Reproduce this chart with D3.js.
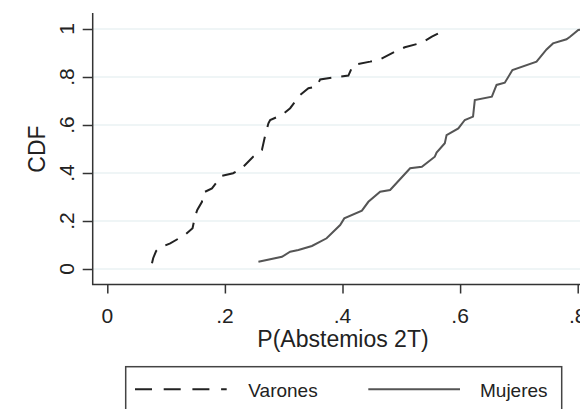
<!DOCTYPE html>
<html>
<head>
<meta charset="utf-8">
<script src="https://cdn.jsdelivr.net/npm/d3@7"></script>
<style>
  body { margin: 0; background: #fff; }
  svg { display: block; font-family: "Liberation Sans", Arial, sans-serif; }
</style>
</head>
<body>
<div id="chart"></div>
<script>
const varonesX = [0.076, 0.078, 0.083, 0.087, 0.107, 0.132, 0.145, 0.149, 0.153, 0.161, 0.163, 0.178, 0.189, 0.195, 0.214, 0.229, 0.248, 0.263, 0.268, 0.274, 0.277, 0.297, 0.311, 0.328, 0.342, 0.356, 0.362, 0.382, 0.410, 0.418, 0.447, 0.464, 0.489, 0.506, 0.535, 0.552, 0.577];
const varonesY = [0.024, 0.045, 0.075, 0.086, 0.107, 0.142, 0.170, 0.218, 0.246, 0.280, 0.318, 0.336, 0.371, 0.388, 0.399, 0.420, 0.468, 0.496, 0.551, 0.607, 0.621, 0.642, 0.670, 0.725, 0.753, 0.760, 0.790, 0.797, 0.806, 0.850, 0.864, 0.874, 0.905, 0.924, 0.943, 0.968, 1.000];

const mujeresX = [0.257, 0.297, 0.311, 0.325, 0.348, 0.373, 0.396, 0.403, 0.433, 0.444, 0.464, 0.481, 0.515, 0.535, 0.557, 0.560, 0.574, 0.577, 0.597, 0.608, 0.622, 0.625, 0.654, 0.662, 0.676, 0.689, 0.730, 0.747, 0.758, 0.781, 0.787, 0.801, 0.812];
const mujeresY = [0.030, 0.051, 0.072, 0.079, 0.096, 0.128, 0.183, 0.211, 0.243, 0.280, 0.322, 0.329, 0.420, 0.426, 0.468, 0.485, 0.524, 0.558, 0.586, 0.621, 0.635, 0.704, 0.718, 0.767, 0.776, 0.829, 0.864, 0.915, 0.940, 0.957, 0.968, 0.996, 1.000];

const xTicks = [0, 0.2, 0.4, 0.6, 0.8];
const yTicks = [0, 0.2, 0.4, 0.6, 0.8, 1];
const seriesNames = ['Varones', 'Mujeres'];

const width = 580, height = 409;

const svg = d3.select('#chart')
  .append('svg')
  .attr('width', width)
  .attr('height', height);

const x = d3.scaleLinear().domain([0, 0.8]).range([107.3, 577.7]);
const y = d3.scaleLinear().domain([0, 1]).range([269, 29]);

const fmt = d => d === 0 ? '0' : d === 1 ? '1' : d3.format('.1f')(d).replace(/^0/, '');

// gridlines
svg.append('g')
  .selectAll('line')
  .data(yTicks)
  .enter()
  .append('line')
  .attr('x1', 93).attr('x2', width)
  .attr('y1', d => y(d)).attr('y2', d => y(d))
  .attr('stroke', '#eaf2f3')
  .attr('stroke-width', 1.5);

// series
const line = d3.line().x(d => x(d[0])).y(d => y(d[1]));

svg.append('path')
  .datum(d3.zip(mujeresX, mujeresY))
  .attr('d', line)
  .attr('fill', 'none')
  .attr('stroke', '#555')
  .attr('stroke-width', 2);

svg.append('path')
  .datum(d3.zip(varonesX, varonesY))
  .attr('d', line)
  .attr('fill', 'none')
  .attr('stroke', '#222')
  .attr('stroke-width', 2)
  .attr('stroke-dasharray', '14,10');

// axes
const yAxis = svg.append('g').attr('transform', 'translate(92.7,0)')
  .call(d3.axisLeft(y).tickValues(yTicks).tickSize(10).tickFormat(''));
const xAxis = svg.append('g').attr('transform', 'translate(0,284.5)')
  .call(d3.axisBottom(x).tickValues(xTicks).tickSize(9).tickFormat(''));

yAxis.select('.domain').remove();
xAxis.select('.domain').remove();
svg.selectAll('.tick line').attr('stroke', '#333').attr('stroke-width', 1.5);

svg.append('line')
  .attr('x1', 92.7).attr('x2', 92.7).attr('y1', 13).attr('y2', 285)
  .attr('stroke', '#333').attr('stroke-width', 1.5);
svg.append('line')
  .attr('x1', 92).attr('x2', width).attr('y1', 284.5).attr('y2', 284.5)
  .attr('stroke', '#333').attr('stroke-width', 1.5);

// tick labels
svg.append('g')
  .selectAll('text')
  .data(yTicks)
  .enter()
  .append('text')
  .attr('transform', d => `translate(73.5,${y(d)}) rotate(-90)`)
  .attr('text-anchor', 'middle')
  .attr('font-size', 21)
  .attr('fill', '#222')
  .text(fmt);

svg.append('g')
  .selectAll('text')
  .data(xTicks)
  .enter()
  .append('text')
  .attr('x', d => x(d))
  .attr('y', 323.3)
  .attr('text-anchor', 'middle')
  .attr('font-size', 21)
  .attr('fill', '#222')
  .text(fmt);

// axis titles
svg.append('text')
  .attr('transform', 'translate(45,149) rotate(-90)')
  .attr('text-anchor', 'middle')
  .attr('font-size', 23)
  .attr('fill', '#222')
  .text('CDF');

svg.append('text')
  .attr('x', 343)
  .attr('y', 347.3)
  .attr('text-anchor', 'middle')
  .attr('font-size', 23)
  .attr('fill', '#222')
  .text('P(Abstemios 2T)');

// legend
const legend = svg.append('g');
legend.append('rect')
  .attr('x', 125.7).attr('y', 366.7)
  .attr('width', 436).attr('height', 60)
  .attr('fill', '#fff')
  .attr('stroke', '#444')
  .attr('stroke-width', 1.5);

const legendItems = [
  { name: seriesNames[0], x1: 135, x2: 226.7, tx: 248.3, color: '#222', dash: '17,11.7' },
  { name: seriesNames[1], x1: 368.3, x2: 460, tx: 480, color: '#555', dash: null }
];

legendItems.forEach(it => {
  legend.append('line')
    .attr('x1', it.x1).attr('x2', it.x2)
    .attr('y1', 389.3).attr('y2', 389.3)
    .attr('stroke', it.color)
    .attr('stroke-width', 2)
    .attr('stroke-dasharray', it.dash);
  legend.append('text')
    .attr('x', it.tx)
    .attr('y', 396.7)
    .attr('font-size', 19)
    .attr('fill', '#222')
    .text(it.name);
});
</script>
</body>
</html>
